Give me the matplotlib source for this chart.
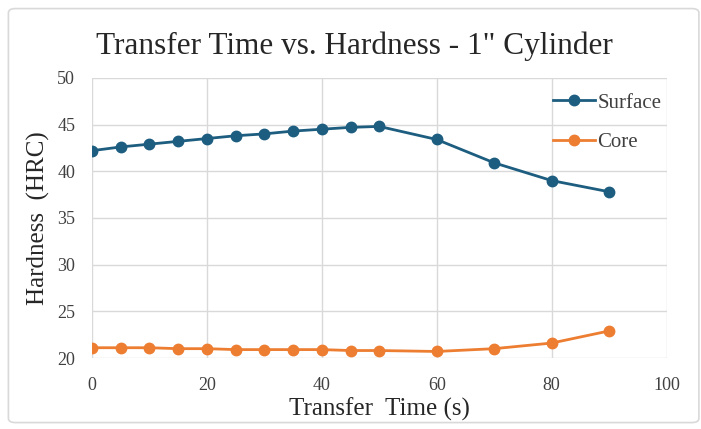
import matplotlib.pyplot as plt
from matplotlib.patches import FancyBboxPatch

# data
transfer_time = [0, 5, 10, 15, 20, 25, 30, 35, 40, 45, 50, 60, 70, 80, 90]
surface = [42.2, 42.6, 42.9, 43.2, 43.5, 43.8, 44.0, 44.3, 44.5, 44.7, 44.8, 43.4, 40.9, 39.0, 37.8]
core = [21.1, 21.1, 21.1, 21.0, 21.0, 20.9, 20.9, 20.9, 20.9, 20.8, 20.8, 20.7, 21.0, 21.6, 22.9]

plt.rcParams['font.family'] = ['Liberation Serif', 'DejaVu Serif']

fig = plt.figure(figsize=(7.01, 4.29), dpi=100)
ax = fig.add_axes([0.131, 0.1655, 0.82, 0.653])

# light rounded border around the whole chart
fig.patches.append(FancyBboxPatch((0.012, 0.015), 0.985, 0.965, boxstyle='round,pad=0,rounding_size=0.01',
                                  transform=fig.transFigure, fill=False, ec='#d9d9d9', lw=1.2))

ax.plot(transfer_time, surface, color='#1d5d7f', marker='o', markersize=7.5, lw=2, label='Surface', zorder=3)
ax.plot(transfer_time, core, color='#ed7d31', marker='o', markersize=7.5, lw=2, label='Core', zorder=3)

ax.set_xlim(0, 100)
ax.set_ylim(20, 50)
ax.set_xticks(range(0, 101, 20))
ax.set_yticks(range(20, 51, 5))
ax.grid(True, color='#d9d9d9', lw=1)
for s in ax.spines.values():
    s.set_visible(False)
ax.tick_params(length=0, labelsize=13, colors='#404040')
ax.tick_params(axis='x', pad=14)
ax.tick_params(axis='y', pad=12)

ax.set_xlabel('Transfer  Time (s)', fontsize=18, color='#262626', labelpad=2)
ax.set_ylabel('Hardness  (HRC)', fontsize=18, color='#262626', labelpad=5)
fig.text(0.506, 0.893, 'Transfer Time vs. Hardness - 1" Cylinder', ha='center', va='center',
         fontsize=22.5, color='#262626')

leg = ax.legend(loc='upper right', frameon=False, fontsize=15, handlelength=2.0,
                handletextpad=0.1, borderaxespad=0.0, labelspacing=0.95,
                bbox_to_anchor=(1.005, 0.975))
for t in leg.get_texts():
    t.set_color('#404040')

fig.savefig('out.png', dpi=100)
